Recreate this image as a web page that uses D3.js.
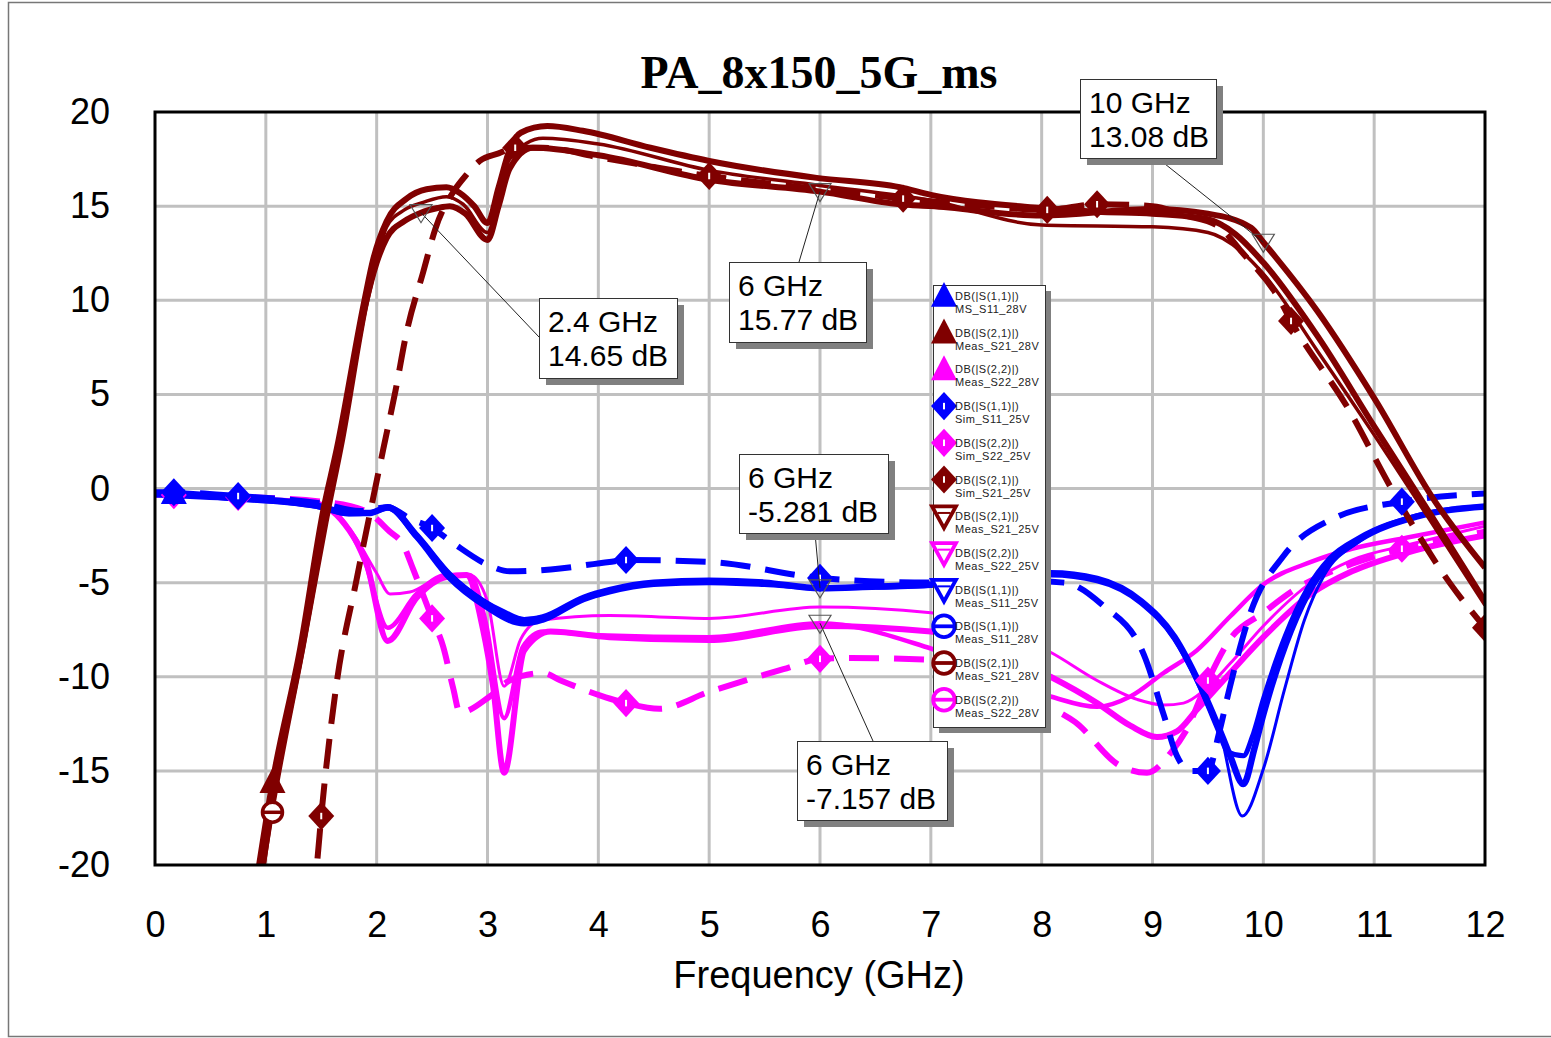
<!DOCTYPE html>
<html><head><meta charset="utf-8">
<script src="https://cdn.jsdelivr.net/npm/d3@7"></script>
<style>body{margin:0;background:#fff;}svg{display:block;}</style>
</head><body>
<svg id="chart" width="1551" height="1038"></svg>
<script>
// ---------------- DATA ----------------
const chartTitle = "PA_8x150_5G_ms";
const xAxisTitle = "Frequency (GHz)";
const xTicks = [0,1,2,3,4,5,6,7,8,9,10,11,12];
const yTicks = [-20,-15,-10,-5,0,5,10,15,20];

// [GHz, dB]
const measS11_MS28 = [[0,-0.3],[0.17,-0.25],[0.7,-0.5],[1.2,-0.7],[1.45,-0.9],[1.75,-1.3],[1.94,-1.3],[2.1,-1.0],[2.36,-2.5],[2.66,-4.6],[2.96,-6.0],[3.15,-6.6],[3.33,-7.0],[3.5,-6.85],[3.87,-5.8],[4.1,-5.4],[4.5,-5.0],[5,-4.9],[5.5,-5.0],[6,-5.3],[6.5,-5.2],[7,-5.1],[7.5,-4.8],[8.08,-4.5],[8.5,-4.8],[8.9,-6.0],[9.2,-7.9],[9.41,-10.2],[9.59,-12.6],[9.7,-14.2],[9.82,-15.7],[9.92,-13.8],[10.0,-12.0],[10.2,-8.3],[10.4,-5.6],[10.6,-3.9],[10.87,-2.7],[11.38,-1.5],[12,-0.96]];
const measS21_28 = [[0.9,-21.5],[1.06,-15.6],[1.31,-8.5],[1.52,-1.1],[1.64,2.1],[1.89,10.0],[1.97,12.2],[2.09,14.2],[2.27,15.4],[2.45,15.9],[2.63,16.0],[2.75,15.7],[2.88,15.0],[3.0,14.1],[3.1,16.0],[3.2,18.0],[3.3,18.9],[3.54,19.25],[3.86,19.0],[4.47,18.1],[5,17.4],[5.97,16.5],[6.72,16.0],[7,15.6],[8,14.9],[8.5,14.7],[9,14.6],[9.5,14.3],[9.75,13.5],[10,12.0],[10.5,8.0],[11,3.3],[11.5,-1.3],[12,-6.0]];
const measS22_28 = [[0,-0.3],[0.5,-0.4],[1,-0.6],[1.45,-0.8],[1.6,-1.2],[1.75,-2.2],[1.9,-3.8],[2.1,-8.1],[2.36,-5.8],[2.63,-4.7],[2.81,-4.6],[2.96,-7.5],[3.05,-10.5],[3.15,-15.1],[3.33,-8.6],[3.57,-7.6],[4.1,-7.9],[5,-8.05],[6,-7.3],[7,-7.6],[8.08,-10.0],[8.5,-11.4],[8.8,-12.6],[9.04,-13.2],[9.22,-12.9],[9.4,-11.75],[9.7,-9.8],[10,-7.9],[10.43,-5.6],[10.8,-4.4],[11.3,-3.4],[12,-2.5]];
const simS11_25 = [[0,-0.2],[0.17,-0.2],[0.75,-0.4],[1.5,-0.8],[1.85,-1.2],[2.1,-1.0],[2.3,-1.6],[2.5,-2.1],[2.69,-2.9],[3.02,-4.1],[3.2,-4.4],[3.57,-4.3],[4.1,-3.9],[4.25,-3.8],[5,-3.9],[6,-4.75],[7,-5.0],[7.75,-4.9],[8.2,-5.0],[8.55,-6.2],[8.92,-8.8],[9.1,-12.0],[9.22,-14.2],[9.35,-15.0],[9.5,-15.0],[9.6,-13.0],[9.7,-10.5],[9.89,-6.5],[10.18,-3.6],[10.63,-1.6],[11.25,-0.7],[12,-0.27]];
const simS22_25 = [[0,-0.3],[0.17,-0.35],[0.75,-0.45],[1.5,-0.7],[1.9,-1.2],[2.12,-2.3],[2.24,-3.0],[2.33,-4.3],[2.5,-6.9],[2.6,-8.4],[2.69,-10.6],[2.75,-11.9],[3.02,-11.05],[3.2,-10.2],[3.5,-9.8],[3.66,-10.2],[4.02,-11.0],[4.25,-11.4],[4.55,-11.7],[5,-10.8],[5.67,-9.6],[6,-9.05],[6.28,-9.0],[7,-9.1],[7.5,-10.0],[8.1,-11.7],[8.3,-12.4],[8.7,-14.7],[8.95,-15.1],[9.17,-14.0],[9.3,-12.9],[9.5,-10.2],[9.7,-8.0],[10.0,-6.6],[10.25,-5.5],[10.8,-4.0],[11.25,-3.2],[12,-2.3]];
const simS21_25 = [[1.4,-22],[1.46,-20],[1.5,-17.4],[1.64,-10.3],[1.82,-4.8],[2.06,2.1],[2.17,5.2],[2.27,8.3],[2.42,11.5],[2.53,13.8],[2.72,16.0],[2.8,16.6],[2.93,17.4],[3.1,17.8],[3.25,18.1],[3.5,18.1],[4,17.6],[5,16.6],[6,15.9],[6.75,15.4],[7.5,15.0],[8.05,14.8],[8.5,15.1],[9,15.0],[9.3,14.5],[9.6,13.9],[9.8,12.6],[10.15,10.0],[10.25,8.9],[10.78,4.1],[11.14,0.16],[11.68,-5.0],[12,-7.4]];
const measS21_25 = [[0.95,-21],[1.06,-16.6],[1.33,-8.4],[1.54,-1.5],[1.66,2.0],[1.9,9.8],[2.0,12.0],[2.09,13.3],[2.25,14.2],[2.4,14.65],[2.55,14.9],[2.66,15.0],[2.8,14.6],[3.0,13.2],[3.1,15.0],[3.2,17.0],[3.41,18.1],[4,17.7],[5,16.4],[6,15.77],[6.72,15.1],[7,15.0],[8,14.5],[9,14.85],[9.5,14.6],[9.89,13.85],[10,13.08],[10.49,9.4],[11,4.8],[11.55,-0.7],[12,-4.2]];
const measS22_25 = [[0,-0.3],[1,-0.6],[1.45,-0.8],[1.75,-2.2],[1.9,-4.0],[2.1,-7.4],[2.36,-5.6],[2.63,-4.6],[2.84,-4.6],[2.98,-7.0],[3.15,-12.2],[3.32,-8.4],[3.5,-7.6],[4,-7.8],[5,-7.9],[6,-7.157],[7,-8.5],[8.08,-11.05],[8.5,-11.6],[8.8,-11.05],[9.1,-9.8],[9.4,-8.6],[9.7,-6.8],[10,-5.1],[10.43,-3.9],[10.8,-3.2],[11.3,-2.6],[12,-1.8]];
const measS11_25 = [[0,-0.35],[0.7,-0.55],[1.45,-0.95],[1.75,-1.35],[1.94,-1.3],[2.1,-1.05],[2.36,-2.6],[2.66,-4.8],[2.96,-6.2],[3.33,-7.2],[3.5,-7.0],[3.87,-5.9],[4.1,-5.5],[4.5,-5.1],[5,-5.0],[5.5,-5.1],[6,-5.281],[6.5,-5.25],[7,-5.15],[7.5,-4.9],[8.08,-4.6],[8.5,-4.9],[8.9,-6.1],[9.2,-8.0],[9.41,-10.3],[9.59,-12.8],[9.68,-14.0],[9.82,-14.2],[9.9,-13.2],[10.0,-11.2],[10.2,-7.8],[10.4,-5.3],[10.6,-3.7],[10.87,-2.6],[11.38,-1.45],[12,-0.95]];
const measS11_28 = [[0,-0.3],[0.7,-0.5],[1.45,-0.9],[1.75,-1.3],[1.94,-1.3],[2.1,-1.0],[2.36,-2.4],[2.66,-4.5],[2.96,-5.9],[3.33,-6.9],[3.5,-6.8],[3.87,-5.75],[4.1,-5.35],[4.5,-5.0],[5,-4.85],[5.5,-4.95],[6,-5.25],[6.5,-5.2],[7,-5.05],[7.5,-4.8],[8.08,-4.5],[8.5,-4.8],[8.9,-6.0],[9.2,-7.9],[9.41,-10.2],[9.6,-12.7],[9.81,-17.4],[10.0,-14.9],[10.19,-10.7],[10.37,-7.0],[10.55,-4.6],[10.87,-2.8],[11.38,-1.55],[12,-1.0]];
const measS21_28b = [[0.97,-20.5],[1.06,-17.2],[1.35,-8.2],[1.55,-1.8],[1.7,2.6],[1.92,10.0],[2.0,12.0],[2.09,13.9],[2.25,14.8],[2.42,15.2],[2.63,15.5],[2.78,15.1],[3.0,13.6],[3.1,15.5],[3.2,17.5],[3.5,18.6],[4,18.3],[5,16.9],[6,16.1],[7,15.3],[8,14.0],[9,13.9],[9.5,13.6],[9.8,12.6],[10,11.4],[10.5,7.2],[11,2.85],[11.55,-2.1],[12,-6.2]];
const measS22_28b = [[0,-0.3],[1,-0.6],[1.45,-0.8],[1.75,-2.1],[2.0,-4.5],[2.12,-5.6],[2.3,-5.5],[2.63,-4.6],[2.84,-4.6],[3.0,-6.0],[3.15,-10.5],[3.3,-8.0],[3.48,-7.0],[4.1,-6.75],[5,-6.9],[6,-6.3],[7,-6.6],[8.08,-8.7],[8.5,-10.2],[8.86,-11.2],[9.1,-11.5],[9.28,-11.4],[9.47,-10.7],[9.7,-9.3],[10,-7.3],[10.43,-5.0],[10.8,-3.8],[11.3,-3.0],[12,-2.0]];

// symbol positions on traces (GHz)
const simS11Marks = [0.17,0.75,2.5,4.25,6.0,7.75,9.5,11.25];
const simS22Marks = [0.17,0.75,2.5,4.25,6.0,7.75,9.5,11.25];
const simS21Marks = [1.5,3.25,5.0,6.75,8.05,8.5,10.25,12.0];
const measS11MSMarks = [0.17];
const measS21Marks = [1.06];
const measS21bMarks = [1.06];

const legendLine1 = ["DB(|S(1,1)|)","DB(|S(2,1)|)","DB(|S(2,2)|)","DB(|S(1,1)|)","DB(|S(2,2)|)","DB(|S(2,1)|)","DB(|S(2,1)|)","DB(|S(2,2)|)","DB(|S(1,1)|)","DB(|S(1,1)|)","DB(|S(2,1)|)","DB(|S(2,2)|)"];
const legendLine2 = ["MS_S11_28V","Meas_S21_28V","Meas_S22_28V","Sim_S11_25V","Sim_S22_25V","Sim_S21_25V","Meas_S21_25V","Meas_S22_25V","Meas_S11_25V","Meas_S11_28V","Meas_S21_28V","Meas_S22_28V"];

// annotation markers: [GHz, dB]
const markerPts = [[2.4,14.65],[6,15.77],[10,13.08],[6,-5.281],[6,-7.157]];
const markerText1 = ["2.4 GHz","6 GHz","10 GHz","6 GHz","6 GHz"];
const markerText2 = ["14.65 dB","15.77 dB","13.08 dB","-5.281 dB","-7.157 dB"];

// ---------------- STYLE ----------------
const BLUE="#0000ff", RED="#800000", MAG="#ff00ff";
const series = [
  {d:measS22_28,  c:MAG, w:6},
  {d:measS22_25,  c:MAG, w:4.5},
  {d:measS22_28b, c:MAG, w:3},
  {d:simS22_25,   c:MAG, w:6, dash:"30,15"},
  {d:measS11_MS28,c:BLUE,w:6.5},
  {d:measS11_25,  c:BLUE,w:5},
  {d:measS11_28,  c:BLUE,w:3},
  {d:simS11_25,   c:BLUE,w:6, dash:"30,15"},
  {d:simS21_25,   c:RED, w:6, dash:"30,15"},
  {d:measS21_28,  c:RED, w:6},
  {d:measS21_25,  c:RED, w:6},
  {d:measS21_28b, c:RED, w:3.5}
];
const legendSym = [["tri",BLUE],["tri",RED],["tri",MAG],["dia",BLUE],["dia",MAG],["dia",RED],["itri",RED],["itri",MAG],["itri",BLUE],["circ",BLUE],["circ",RED],["circ",MAG]];
const boxes = [ // x,y,w,h of annotation boxes and leader anchor
  {x:539,y:298,w:138,h:80,ax:539,ay:337},
  {x:729,y:262,w:137,h:80,ax:799,ay:262},
  {x:1080,y:79,w:136,h:79,ax:1160,ay:160},
  {x:739,y:454,w:149,h:79,ax:815,ay:533},
  {x:797,y:741,w:150,h:79,ax:873,ay:741}
];

// ---------------- DRAW ----------------
const svg = d3.select("#chart");
const L=155,R=1485,T=112,B=865;
const x = d3.scaleLinear().domain([0,12]).range([L,R]);
const y = d3.scaleLinear().domain([-20,20]).range([B,T]);

// outer frame
svg.append("rect").attr("x",8.5).attr("y",2.5).attr("width",1560).attr("height",1034)
  .attr("fill","#fff").attr("stroke","#777").attr("stroke-width",1.5);

svg.append("defs").append("clipPath").attr("id","clip")
  .append("rect").attr("x",L).attr("y",T).attr("width",R-L).attr("height",B-T);

// grid
const g = svg.append("g");
g.selectAll(".vg").data(xTicks.slice(1,-1)).join("line")
  .attr("x1",d=>x(d)).attr("x2",d=>x(d)).attr("y1",T).attr("y2",B)
  .attr("stroke","#c0c0c0").attr("stroke-width",3);
g.selectAll(".hg").data(yTicks.slice(1,-1)).join("line")
  .attr("y1",d=>y(d)).attr("y2",d=>y(d)).attr("x1",L).attr("x2",R)
  .attr("stroke","#c0c0c0").attr("stroke-width",3);

// axes
const xa = svg.append("g").attr("transform",`translate(0,${B})`)
  .call(d3.axisBottom(x).tickValues(xTicks).tickSize(0).tickPadding(46).tickFormat(d3.format("d")));
const ya = svg.append("g").attr("transform",`translate(${L},0)`)
  .call(d3.axisLeft(y).tickValues(yTicks).tickSize(0).tickPadding(45).tickFormat(d=>d<0?"-"+Math.abs(d):String(d)));
[xa,ya].forEach(a=>{a.select(".domain").remove();
  a.selectAll("text").attr("font-family","'Liberation Sans',Arial,sans-serif").attr("font-size",36).attr("fill","#000");});

// traces
const plot = svg.append("g").attr("clip-path","url(#clip)");
const line = d3.line().x(d=>x(d[0])).y(d=>y(d[1])).curve(d3.curveMonotoneX);
series.forEach(s=>{
  plot.append("path").attr("d",line(s.d)).attr("fill","none").attr("stroke",s.c)
    .attr("stroke-width",s.w).attr("stroke-linejoin","round")
    .attr("stroke-dasharray",s.dash||null);
});

function valAt(data,f){
  for(let i=0;i<data.length-1;i++){
    if(f>=data[i][0]&&f<=data[i+1][0]){
      const t=(f-data[i][0])/(data[i+1][0]-data[i][0]);
      return data[i][1]+t*(data[i+1][1]-data[i][1]);
    }
  }
  return data[data.length-1][1];
}
function drawSym(sel,type,color,cx,cy,s){
  const k=s/24;
  if(type==="tri"){
    sel.append("path").attr("d",`M${cx},${cy-13*k}L${cx+12*k},${cy+10*k}L${cx-12*k},${cy+10*k}Z`).attr("fill",color);
  } else if(type==="dia"){
    sel.append("path").attr("d",`M${cx},${cy-13*k}L${cx+12*k},${cy}L${cx},${cy+13*k}L${cx-12*k},${cy}Z`).attr("fill",color);
    sel.append("rect").attr("x",cx-1).attr("y",cy-3*k).attr("width",2).attr("height",6*k).attr("fill","#fff");
  } else if(type==="itri"){
    sel.append("path").attr("d",`M${cx-11*k},${cy-9*k}L${cx+11*k},${cy-9*k}L${cx},${cy+11*k}Z`)
      .attr("fill","#fff").attr("stroke",color).attr("stroke-width",3.5*k);
    sel.append("line").attr("x1",cx-6*k).attr("x2",cx+6*k).attr("y1",cy-3*k).attr("y2",cy-3*k).attr("stroke",color).attr("stroke-width",2);
  } else if(type==="circ"){
    sel.append("circle").attr("cx",cx).attr("cy",cy).attr("r",10*k).attr("fill","#fff").attr("stroke",color).attr("stroke-width",3.5*k);
    sel.append("line").attr("x1",cx-10*k).attr("x2",cx+10*k).attr("y1",cy).attr("y2",cy).attr("stroke",color).attr("stroke-width",3.5*k);
  }
}
const mk = svg.append("g").attr("clip-path","url(#clip)");
simS22Marks.forEach(f=>drawSym(mk,"dia",MAG,x(f),y(valAt(simS22_25,f)),26));
simS11Marks.forEach(f=>drawSym(mk,"dia",BLUE,x(f),y(valAt(simS11_25,f)),26));
measS11MSMarks.forEach(f=>drawSym(mk,"tri",BLUE,x(f),y(valAt(measS11_MS28,f)),26));
simS21Marks.forEach(f=>drawSym(mk,"dia",RED,x(f),y(valAt(simS21_25,f)),26));
measS21Marks.forEach(f=>drawSym(mk,"tri",RED,x(f),y(valAt(measS21_28,f)),26));
measS21bMarks.forEach(f=>drawSym(mk,"circ",RED,x(f),y(valAt(measS21_28b,f)),24));

// plot frame
svg.append("rect").attr("x",L).attr("y",T).attr("width",R-L).attr("height",B-T)
  .attr("fill","none").attr("stroke","#000").attr("stroke-width",3);

// annotation markers and boxes
const an = svg.append("g");
markerPts.forEach((p,i)=>{
  const cx=x(p[0]), cy=y(p[1]), b=boxes[i];
  an.append("line").attr("x1",cx).attr("y1",cy).attr("x2",b.ax).attr("y2",b.ay).attr("stroke","#222").attr("stroke-width",1);
  an.append("path").attr("d",`M${cx-11},${cy-8}L${cx+11},${cy-8}L${cx},${cy+10}Z`).attr("fill","none").attr("stroke","#555").attr("stroke-width",1.2);
});
boxes.forEach((b,i)=>{
  an.append("rect").attr("x",b.x+7).attr("y",b.y+7).attr("width",b.w).attr("height",b.h).attr("fill","#808080");
  an.append("rect").attr("x",b.x+0.5).attr("y",b.y+0.5).attr("width",b.w).attr("height",b.h).attr("fill","#fff").attr("stroke","#333").attr("stroke-width",1);
  const t=an.append("text").attr("font-family","'Liberation Sans',Arial,sans-serif").attr("font-size",30).attr("fill","#000");
  t.append("tspan").attr("x",b.x+9).attr("y",b.y+34).text(markerText1[i]);
  t.append("tspan").attr("x",b.x+9).attr("y",b.y+68).text(markerText2[i]);
});

// legend
const lg = svg.append("g");
const lx=933, ly=285, lw=112, lh=442;
lg.append("rect").attr("x",lx+6).attr("y",ly+6).attr("width",lw).attr("height",lh).attr("fill","#808080");
lg.append("rect").attr("x",lx+0.5).attr("y",ly+0.5).attr("width",lw).attr("height",lh).attr("fill","#fff").attr("stroke","#333").attr("stroke-width",1);
legendLine1.forEach((t,i)=>{
  const cy = ly+11+i*36.7;
  drawSym(lg,legendSym[i][0],legendSym[i][1],944,cy,26);
  const tx = lg.append("text").attr("font-family","'Liberation Sans',Arial,sans-serif").attr("font-size",11).attr("letter-spacing","0.5px").attr("fill","#222");
  tx.append("tspan").attr("x",955).attr("y",cy+4).text(t);
  tx.append("tspan").attr("x",955).attr("y",cy+17).text(legendLine2[i]);
});

// titles
svg.append("text").attr("x",819).attr("y",88).attr("text-anchor","middle")
  .attr("font-family","'Liberation Serif','Times New Roman',serif").attr("font-weight","bold").attr("font-size",46)
  .text(chartTitle);
svg.append("text").attr("x",819).attr("y",988).attr("text-anchor","middle")
  .attr("font-family","'Liberation Sans',Arial,sans-serif").attr("font-size",38)
  .text(xAxisTitle);
</script>
</body></html>
